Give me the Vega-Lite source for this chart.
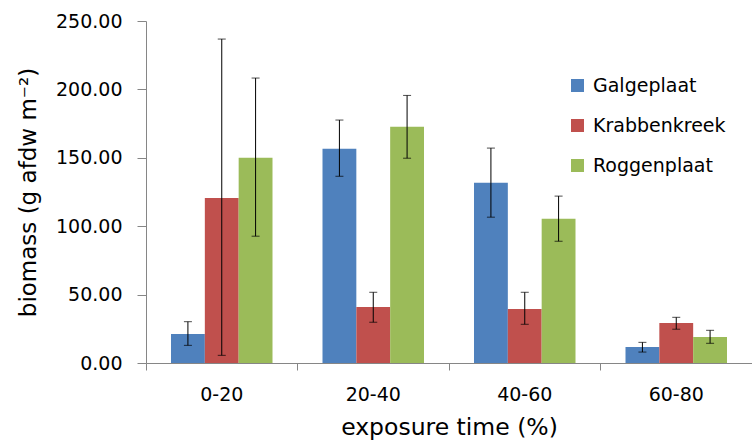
{
  "$schema": "https://vega.github.io/schema/vega-lite/v6.json",
  "width": 606,
  "height": 342,
  "autosize": "none",
  "padding": {"left": 146, "top": 21, "right": 0, "bottom": 78},
  "background": "white",
  "config": {
    "view": {"stroke": null},
    "font": "DejaVu Sans",
    "axis": {"labelColor": "#000000", "titleColor": "#000000", "domainColor": "#868686", "tickColor": "#868686", "titleFontWeight": "normal", "grid": false}
  },
  "data": {
    "values": [
      {"exposure": "0-20", "site": "Galgeplaat", "biomass": 21.2, "lo": 12.9, "hi": 30.2},
      {"exposure": "0-20", "site": "Krabbenkreek", "biomass": 120.7, "lo": 5.6, "hi": 236.8},
      {"exposure": "0-20", "site": "Roggenplaat", "biomass": 150.0, "lo": 92.7, "hi": 208.3},
      {"exposure": "20-40", "site": "Galgeplaat", "biomass": 156.6, "lo": 136.5, "hi": 177.6},
      {"exposure": "20-40", "site": "Krabbenkreek", "biomass": 41.0, "lo": 29.8, "hi": 51.7},
      {"exposure": "20-40", "site": "Roggenplaat", "biomass": 172.7, "lo": 149.7, "hi": 195.6},
      {"exposure": "40-60", "site": "Galgeplaat", "biomass": 131.7, "lo": 106.6, "hi": 157.1},
      {"exposure": "40-60", "site": "Krabbenkreek", "biomass": 39.5, "lo": 28.3, "hi": 51.7},
      {"exposure": "40-60", "site": "Roggenplaat", "biomass": 105.4, "lo": 89.0, "hi": 122.0},
      {"exposure": "60-80", "site": "Galgeplaat", "biomass": 11.7, "lo": 8.0, "hi": 15.1},
      {"exposure": "60-80", "site": "Krabbenkreek", "biomass": 29.3, "lo": 24.7, "hi": 33.4},
      {"exposure": "60-80", "site": "Roggenplaat", "biomass": 19.0, "lo": 14.4, "hi": 23.9}
    ]
  },
  "resolve": {"axis": {"x": "independent"}},
  "layer": [
    {
      "mark": {"type": "bar"},
      "encoding": {
        "x": {"field": "exposure", "type": "nominal", "sort": ["0-20", "20-40", "40-60", "60-80"],
          "scale": {"paddingInner": 0.33, "paddingOuter": 0.165},
          "axis": {"orient": "bottom", "labels": false, "title": null, "bandPosition": -0.246, "ticks": true, "tickSize": 7, "domain": true}},
        "xOffset": {"field": "site", "type": "nominal", "sort": ["Galgeplaat", "Krabbenkreek", "Roggenplaat"], "scale": {"paddingInner": 0, "paddingOuter": 0}},
        "y": {"field": "biomass", "type": "quantitative", "scale": {"domain": [0, 250], "nice": false},
          "axis": {"values": [0, 50, 100, 150, 200, 250], "format": ".2f", "labelFontSize": 19, "tickSize": 9, "labelPadding": 15,
            "title": "biomass (g afdw m⁻²)", "titleFontSize": 23, "titlePadding": 15}},
        "color": {"field": "site", "type": "nominal", "sort": ["Galgeplaat", "Krabbenkreek", "Roggenplaat"],
          "scale": {"range": ["#4F81BD", "#C0504D", "#9BBB59"]},
          "legend": {"orient": "none", "legendX": 422, "legendY": 55, "title": null, "symbolType": "square", "symbolSize": 169, "symbolStrokeWidth": 0, "labelFontSize": 19, "labelColor": "#000000", "rowPadding": 20, "labelOffset": 6}}
      }
    },
    {
      "mark": {"type": "rule", "color": "#000000", "strokeWidth": 1},
      "encoding": {
        "x": {"field": "exposure", "type": "nominal", "sort": ["0-20", "20-40", "40-60", "60-80"],
          "axis": {"orient": "bottom", "ticks": false, "domain": false, "labelAngle": 0, "labelFontSize": 19, "labelPadding": 22,
            "title": "exposure time (%)", "titleFontSize": 23.5, "titlePadding": 11}},
        "xOffset": {"field": "site", "type": "nominal", "sort": ["Galgeplaat", "Krabbenkreek", "Roggenplaat"]},
        "y": {"field": "lo", "type": "quantitative"},
        "y2": {"field": "hi"}
      }
    },
    {
      "mark": {"type": "tick", "color": "#000000", "size": 8, "thickness": 1},
      "encoding": {
        "x": {"field": "exposure", "type": "nominal", "sort": ["0-20", "20-40", "40-60", "60-80"], "axis": null},
        "xOffset": {"field": "site", "type": "nominal", "sort": ["Galgeplaat", "Krabbenkreek", "Roggenplaat"]},
        "y": {"field": "lo", "type": "quantitative"}
      }
    },
    {
      "mark": {"type": "tick", "color": "#000000", "size": 8, "thickness": 1},
      "encoding": {
        "x": {"field": "exposure", "type": "nominal", "sort": ["0-20", "20-40", "40-60", "60-80"], "axis": null},
        "xOffset": {"field": "site", "type": "nominal", "sort": ["Galgeplaat", "Krabbenkreek", "Roggenplaat"]},
        "y": {"field": "hi", "type": "quantitative"}
      }
    }
  ]
}
